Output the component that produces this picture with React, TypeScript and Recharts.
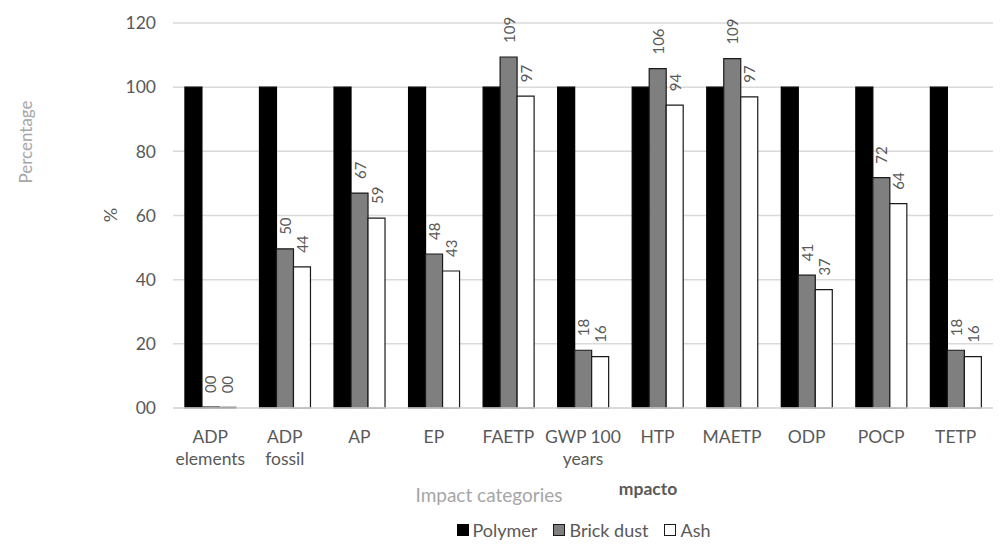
import React from 'react';
import { BarChart, Bar, XAxis, YAxis, CartesianGrid, Legend, LabelList } from 'recharts';

const categories = [
  'ADP\nelements',
  'ADP\nfossil',
  'AP',
  'EP',
  'FAETP',
  'GWP 100\nyears',
  'HTP',
  'MAETP',
  'ODP',
  'POCP',
  'TETP',
];
const polymer = [100, 100, 100, 100, 100, 100, 100, 100, 100, 100, 100];
const brickDust = [0.3, 49.6, 67, 48, 109.4, 18, 105.8, 108.9, 41.4, 71.8, 18];
const ash = [0.2, 44, 59.2, 42.7, 97.2, 16, 94.4, 97, 36.9, 63.7, 16];
const yTicks = [0, 20, 40, 60, 80, 100, 120];

const series = [
  { key: 'polymer', name: 'Polymer', fill: '#000000', stroke: '#000000' },
  { key: 'brick', name: 'Brick dust', fill: '#7f7f7f', stroke: '#1a1a1a' },
  { key: 'ash', name: 'Ash', fill: '#ffffff', stroke: '#1a1a1a' },
];

const data = categories.map((name, i) => ({
  name,
  polymer: polymer[i],
  brick: brickDust[i],
  ash: ash[i],
}));

const FONT = 'Lato, "Open Sans", sans-serif';
const TEXT = '#595959';

// Excel style "00" number format
const fmt = (v: number) => String(Math.round(v)).padStart(2, '0');

const CategoryTick = (props: any) => {
  const { x, y, payload } = props;
  const lines = String(payload.value).split('\n');
  return (
    <text x={x} y={y + 27} textAnchor="middle" fill={TEXT} fontSize={17.5} fontFamily={FONT}>
      {lines.map((l, i) => (
        <tspan key={i} x={x} dy={i === 0 ? 0 : 22}>
          {l}
        </tspan>
      ))}
    </text>
  );
};

const ValueLabel = (props: any) => {
  const { x, y, width, value } = props;
  const cx = x + width / 2;
  const cy = y - 14;
  return (
    <text
      x={cx}
      y={cy}
      transform={`rotate(-90 ${cx} ${cy})`}
      textAnchor="start"
      dominantBaseline="central"
      fill={TEXT}
      fontSize={15}
      fontFamily={FONT}
    >
      {fmt(value)}
    </text>
  );
};

const LegendBox = () => (
  <div
    style={{
      display: 'flex',
      justifyContent: 'center',
      alignItems: 'center',
      height: 24,
      fontFamily: FONT,
      fontSize: 18,
      color: TEXT,
      paddingLeft: 190,
    }}
  >
    {series.map((s) => (
      <span key={s.key} style={{ display: 'flex', alignItems: 'center', marginRight: 16 }}>
        <span
          style={{
            display: 'inline-block',
            width: 12,
            height: 12,
            background: s.fill,
            border: `1.5px solid ${s.stroke}`,
            boxSizing: 'border-box',
            marginRight: 4,
          }}
        />
        {s.name}
      </span>
    ))}
  </div>
);

export default function App() {
  return (
    <div style={{ position: 'absolute', left: 0, top: 0, width: 1006, height: 551, background: '#fff' }}>
      <BarChart
        width={1006}
        height={551}
        data={data}
        margin={{ top: 23, right: 13, left: 0, bottom: 9 }}
        barCategoryGap="16%"
        barGap={0}
      >
        <CartesianGrid vertical={false} stroke="#d9d9d9" strokeWidth={1.5} />
        <XAxis
          dataKey="name"
          height={110}
          interval={0}
          tickLine={false}
          axisLine={{ stroke: '#d9d9d9', strokeWidth: 1.5 }}
          tick={<CategoryTick />}
        />
        <YAxis
          width={173}
          domain={[0, 120]}
          ticks={yTicks}
          tickFormatter={fmt}
          tickLine={false}
          axisLine={false}
          tickSize={0}
          tickMargin={17}
          tick={{ fill: TEXT, fontSize: 17.5, fontFamily: FONT }}
        />
        <Legend verticalAlign="bottom" content={<LegendBox />} />
        {series.map((s) => (
          <Bar
            key={s.key}
            dataKey={s.key}
            name={s.name}
            fill={s.fill}
            stroke={s.stroke}
            strokeWidth={1.2}
            isAnimationActive={false}
          >
            {s.key !== 'polymer' && <LabelList dataKey={s.key} content={<ValueLabel />} />}
          </Bar>
        ))}
      </BarChart>
      <div
        style={{
          position: 'absolute',
          left: 25,
          top: 142,
          transform: 'translate(-50%, -50%) rotate(-90deg)',
          fontFamily: FONT,
          fontSize: 17,
          color: '#a6a6a6',
          whiteSpace: 'nowrap',
        }}
      >
        Percentage
      </div>
      <div
        style={{
          position: 'absolute',
          left: 110,
          top: 215,
          transform: 'translate(-50%, -50%) rotate(-90deg)',
          fontFamily: FONT,
          fontSize: 18,
          color: TEXT,
          whiteSpace: 'nowrap',
        }}
      >
        %
      </div>
      <div
        style={{
          position: 'absolute',
          left: 489,
          top: 494,
          transform: 'translate(-50%, -50%)',
          fontFamily: FONT,
          fontSize: 19,
          color: '#a6a6a6',
          whiteSpace: 'nowrap',
        }}
      >
        Impact categories
      </div>
      <div
        style={{
          position: 'absolute',
          left: 648,
          top: 488,
          transform: 'translate(-50%, -50%)',
          fontFamily: FONT,
          fontSize: 17.5,
          fontWeight: 'bold',
          color: TEXT,
          whiteSpace: 'nowrap',
        }}
      >
        mpacto
      </div>
    </div>
  );
}
